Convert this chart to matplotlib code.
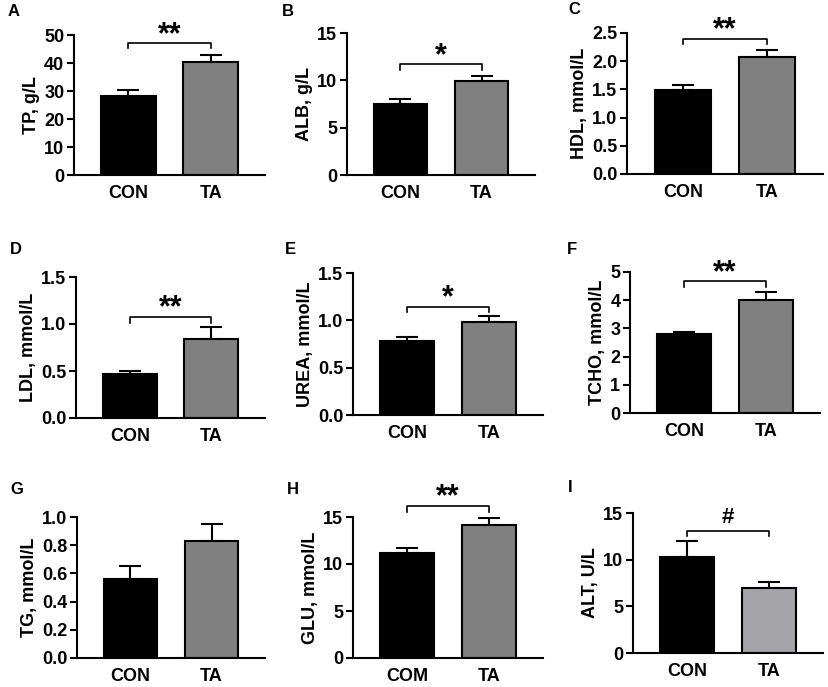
import matplotlib.pyplot as plt
import numpy as np

plt.rcParams["font.family"] = ["Liberation Sans", "DejaVu Sans"]
plt.rcParams["font.weight"] = "bold"

groups = [["CON", "TA"]] * 7 + [["COM", "TA"], ["CON", "TA"]]
letters = ["A", "B", "C", "D", "E", "F", "G", "H", "I"]
ylabels = ["TP, g/L", "ALB, g/L", "HDL, mmol/L", "LDL, mmol/L", "UREA, mmol/L",
           "TCHO, mmol/L", "TG, mmol/L", "GLU, mmol/L", "ALT, U/L"]
means = [[28.3, 40.5], [7.5, 9.9], [1.49, 2.07], [0.465, 0.845], [0.78, 0.98],
         [2.8, 3.99], [0.56, 0.83], [11.15, 14.2], [10.3, 6.95]]
errs = [[1.9, 2.5], [0.55, 0.6], [0.09, 0.13], [0.04, 0.12], [0.045, 0.065],
        [0.09, 0.29], [0.09, 0.12], [0.5, 0.65], [1.65, 0.65]]
ymax = [50, 15, 2.5, 1.5, 1.5, 5, 1.0, 15, 15]
ystep = [10, 5, 0.5, 0.5, 0.5, 1, 0.2, 5, 5]
yfmt = ["{:.0f}", "{:.0f}", "{:.1f}", "{:.1f}", "{:.1f}", "{:.0f}", "{:.1f}", "{:.0f}", "{:.0f}"]
# significance bracket: (top, leg bottom, mark) ; None = no bracket
brackets = [(47.2, 45.3, "**"), (11.7, 11.1, "*"), (2.40, 2.30, "**"),
            (1.078, 1.01, "**"), (1.144, 1.088, "*"), (4.68, 4.48, "**"),
            None, (16.2, 15.5, "**"), (13.1, 12.5, "#")]
ta_colors = ["#808080"] * 8 + ["#a3a3a8"]

# axes boxes in pixels: left, top, right, bottom
boxes = [(74, 35, 265, 175), (347, 33, 535, 175), (627, 33, 823, 174),
         (76, 277, 265, 418), (353, 273, 543, 415), (630, 272, 820, 413),
         (77, 517, 265, 658), (353, 517, 543, 658), (633, 513, 823, 653)]
letter_pos = [(8, 12), (282, 12), (568, 10), (10, 250), (285, 250), (567, 250),
              (10, 490), (287, 490), (568, 487)]

W, H = 829, 687
fig = plt.figure(figsize=(W / 100, H / 100), dpi=100)

for i in range(9):
    l, t, r, b = boxes[i]
    ax = fig.add_axes([l / W, 1 - b / H, (r - l) / W, (b - t) / H])
    x = np.arange(2)
    ax.bar(x, means[i], width=0.66, color=["black", ta_colors[i]],
           edgecolor="black", linewidth=1.5, zorder=2)
    ax.errorbar(x, means[i], yerr=[[0, 0], errs[i]], fmt="none", ecolor="black",
                elinewidth=1.5, capsize=8, capthick=1.5, zorder=1)
    ax.set_xlim(-0.66, 1.66)
    ax.set_ylim(0, ymax[i])
    ticks = np.arange(0, ymax[i] + ystep[i] / 2, ystep[i])
    ax.set_yticks(ticks)
    ax.set_yticklabels([yfmt[i].format(v) for v in ticks])
    ax.set_xticks(x)
    ax.set_xticklabels(groups[i])
    ax.set_ylabel(ylabels[i], fontsize=13, fontweight="bold", labelpad=3)
    ax.tick_params(axis="y", labelsize=13, width=1.5, length=5, pad=2)
    ax.tick_params(axis="x", labelsize=13, length=0, pad=7)
    for s in ["top", "right"]:
        ax.spines[s].set_visible(False)
    for s in ["left", "bottom"]:
        ax.spines[s].set_linewidth(1.5)
    if brackets[i] is not None:
        top, leg, mark = brackets[i]
        ax.plot([0, 0, 1, 1], [leg, top, top, leg], color="black", lw=1.2,
                clip_on=False)
        fs = 16 if mark == "#" else 22
        off = 2 if mark == "#" else -5
        ax.annotate(mark, xy=(0.5, top), xytext=(0, off), textcoords="offset points",
                    ha="center", va="bottom", fontsize=fs, fontweight="bold",
                    annotation_clip=False)
    lx, ly = letter_pos[i]
    fig.text(lx / W, 1 - ly / H, letters[i], fontsize=12, fontweight="bold",
             ha="left", va="center")

fig.savefig("out.png", dpi=100)
